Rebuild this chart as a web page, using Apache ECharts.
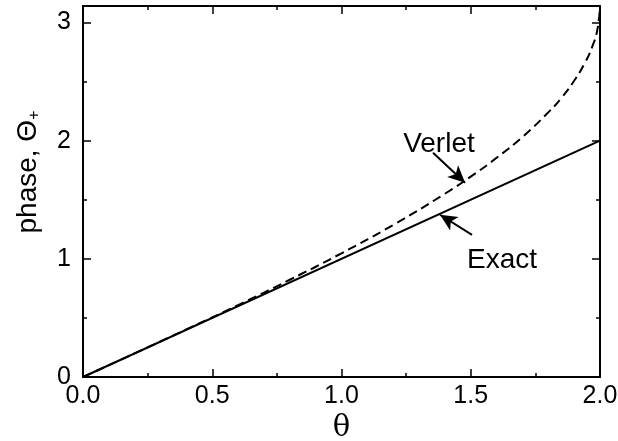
<!DOCTYPE html>
<html>
<head>
<meta charset="utf-8">
<script src="https://cdn.jsdelivr.net/npm/echarts@6/dist/echarts.min.js"></script>
<style>
html, body { margin: 0; padding: 0; background: #fff; }
#main { width: 618px; height: 441px; }
</style>
</head>
<body>
<div id="main"></div>
<script>
// values
var thetaVerlet = [0, 0.2, 0.4, 0.6, 0.8, 1.0, 1.2, 1.4, 1.5, 1.6, 1.7, 1.8, 1.85, 1.9, 1.94, 1.97, 1.99, 2.0];
var phaseVerlet = [0, 0.2, 0.403, 0.609, 0.823, 1.047, 1.287, 1.551, 1.696, 1.855, 2.032, 2.24, 2.36, 2.507, 2.652, 2.796, 2.941, 3.14];
var thetaExact = [0, 2.0];
var phaseExact = [0, 2.0];
var xTicks = ['0.0', '0.5', '1.0', '1.5', '2.0'];
var yTicks = ['0', '1', '2', '3'];

// annotation positions (data coords)
var verletLabel = [1.377, 1.97];
var verletArrow = [[1.354, 1.898], [1.478, 1.644]];
var exactLabel = [1.621, 0.99];
var exactArrow = [[1.505, 1.203], [1.381, 1.373]];

function pairs(xs, ys) {
  var out = [];
  for (var i = 0; i < xs.length; i++) out.push([xs[i], ys[i]]);
  return out;
}

var myChart = echarts.init(document.getElementById('main'));

var font = 'Liberation Sans, Arial, sans-serif';
var tickStyle = { show: true, inside: true, length: 8, lineStyle: { color: '#000', width: 1.5 } };
var minorStyle = { show: true, splitNumber: 2, length: 4, lineStyle: { color: '#000', width: 1.5 } };
var axisLine = { show: true, onZero: false, lineStyle: { color: '#000', width: 2 } };

var option = {
  animation: false,
  grid: { left: 83, right: 18, top: 6, bottom: 64, containLabel: false, outerBoundsMode: 'none' },
  graphic: [{
    type: 'text', x: 28, y: 172, rotation: Math.PI / 2,
    style: {
      text: '{a|phase, Θ}{s|+}',
      align: 'center', verticalAlign: 'middle',
      rich: {
        a: { fill: '#000', fontSize: 28, fontFamily: font },
        s: { fill: '#000', fontSize: 16, fontFamily: font, padding: [14, 0, 0, 0] }
      }
    }
  }],
  xAxis: [{
    type: 'value', min: 0, max: 2, interval: 0.5,
    axisLine: axisLine, axisTick: tickStyle, minorTick: minorStyle,
    splitLine: { show: false },
    axisLabel: {
      color: '#000', fontSize: 25, fontFamily: font, margin: 7,
      formatter: function (v) { return xTicks[Math.round(v / 0.5)]; }
    },
    name: 'θ', nameLocation: 'middle', nameGap: 22,
    nameTextStyle: { color: '#000', fontSize: 29, fontFamily: 'DejaVu Serif, serif' }
  }, {
    type: 'value', min: 0, max: 2, interval: 0.5, position: 'top',
    axisLine: axisLine, axisTick: tickStyle, minorTick: minorStyle,
    splitLine: { show: false }, axisLabel: { show: false }
  }],
  yAxis: [{
    type: 'value', min: 0, max: 3.14, interval: 1,
    axisLine: axisLine, axisTick: tickStyle, minorTick: minorStyle,
    splitLine: { show: false },
    axisLabel: {
      color: '#000', fontSize: 25, fontFamily: font, margin: 12,
      showMaxLabel: false,
      formatter: function (v) { return yTicks[Math.round(v)]; }
    }
  }, {
    type: 'value', min: 0, max: 3.14, interval: 1, position: 'right',
    axisLine: axisLine, axisTick: tickStyle, minorTick: minorStyle,
    splitLine: { show: false }, axisLabel: { show: false }
  }],
  series: [{
    name: 'Exact', type: 'line', showSymbol: false, symbol: 'none',
    data: pairs(thetaExact, phaseExact),
    lineStyle: { color: '#000', width: 2 },
    markLine: {
      silent: true, symbol: ['none', 'arrow'], symbolSize: [12, 17],
      lineStyle: { color: '#000', width: 2, type: 'solid' },
      label: { show: false },
      data: [[{ coord: exactArrow[0] }, { coord: exactArrow[1] }]]
    },
    markPoint: {
      silent: true, symbol: 'circle', symbolSize: 0,
      label: { show: true, position: 'inside', formatter: 'Exact', color: '#000', fontSize: 28, fontFamily: font },
      data: [{ coord: exactLabel }]
    }
  }, {
    name: 'Verlet', type: 'line', showSymbol: false, symbol: 'none', smooth: true,
    data: pairs(thetaVerlet, phaseVerlet),
    lineStyle: { color: '#000', width: 2, type: [9, 5] },
    markLine: {
      silent: true, symbol: ['none', 'arrow'], symbolSize: [12, 17],
      lineStyle: { color: '#000', width: 2, type: 'solid' },
      label: { show: false },
      data: [[{ coord: verletArrow[0] }, { coord: verletArrow[1] }]]
    },
    markPoint: {
      silent: true, symbol: 'circle', symbolSize: 0,
      label: { show: true, position: 'inside', formatter: 'Verlet', color: '#000', fontSize: 28, fontFamily: font },
      data: [{ coord: verletLabel }]
    }
  }]
};

myChart.setOption(option);
</script>
</body>
</html>
